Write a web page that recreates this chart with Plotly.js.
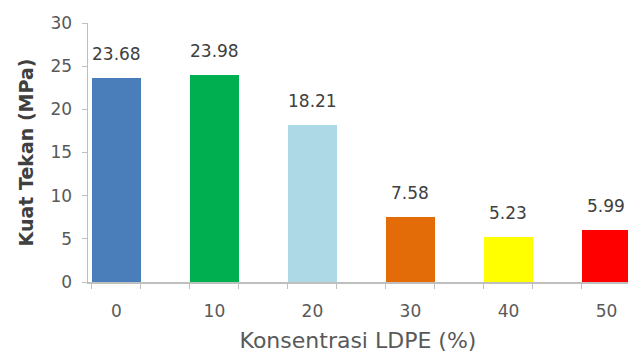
<!DOCTYPE html>
<html>
<head>
<meta charset="utf-8">
<script src="https://cdn.plot.ly/plotly-3.0.1.min.js"></script>
<style>html,body{margin:0;padding:0;background:#fff;}#chart{width:628px;height:358px;}</style>
</head>
<body>
<div id="chart"></div>
<script>
const concentrations = [0, 10, 20, 30, 40, 50];
const strengths = [23.68, 23.98, 18.21, 7.58, 5.23, 5.99];
const valueLabels = ["23.68", "23.98", "18.21", "7.58", "5.23", "5.99"];
const tickLabels = ["0", "10", "20", "30", "40", "50"];
const barColors = ["#4a7ebb", "#00b050", "#add8e6", "#e36c09", "#ffff00", "#ff0000"];

const barWidth = 5;
const edges = [];
concentrations.forEach(c => { edges.push(c - barWidth / 2, c + barWidth / 2); });

const fontFam = "'DejaVu Sans', 'Open Sans', sans-serif";

const trace = {
  type: 'bar',
  x: concentrations,
  y: strengths,
  width: concentrations.map(() => barWidth),
  marker: { color: barColors, line: { width: 0 } },
  hoverinfo: 'none'
};

const annotations = concentrations.map((c, i) => ({
  x: c, y: strengths[i], xref: 'x', yref: 'y',
  text: valueLabels[i], showarrow: false,
  yanchor: 'bottom', yshift: 12,
  font: { family: fontFam, size: 17, color: '#404040' }
}));

const layout = {
  width: 628, height: 358,
  margin: { l: 88, r: 0, t: 23, b: 76 },
  paper_bgcolor: '#ffffff', plot_bgcolor: '#ffffff',
  showlegend: false,
  bargap: 0,
  xaxis: {
    range: [-2.9, 52.2],
    tickvals: concentrations,
    ticktext: tickLabels,
    ticks: '', ticklabelstandoff: 13,
    showline: true, linecolor: '#bfbfbf', linewidth: 1.5,
    showgrid: false, zeroline: false,
    minor: { tickvals: edges, ticks: 'outside', ticklen: 5, tickcolor: '#bfbfbf', showgrid: false },
    tickfont: { family: fontFam, size: 17, color: '#595959' },
    title: { text: 'Konsentrasi LDPE (%)', standoff: 12, font: { family: fontFam, size: 22, color: '#595959' } }
  },
  yaxis: {
    range: [0, 30],
    tickvals: [0, 5, 10, 15, 20, 25, 30],
    ticks: 'outside', ticklen: 5, tickcolor: '#bfbfbf',
    ticklabelstandoff: 6,
    showline: true, linecolor: '#bfbfbf', linewidth: 1.5,
    showgrid: false, zeroline: false,
    tickfont: { family: fontFam, size: 17, color: '#595959' },
    title: { text: '<b>Kuat Tekan (MPa)</b>', standoff: 12, font: { family: fontFam, size: 19, color: '#404040' } }
  },
  annotations: annotations
};

Plotly.newPlot('chart', [trace], layout, { displayModeBar: false, staticPlot: true });
</script>
</body>
</html>
